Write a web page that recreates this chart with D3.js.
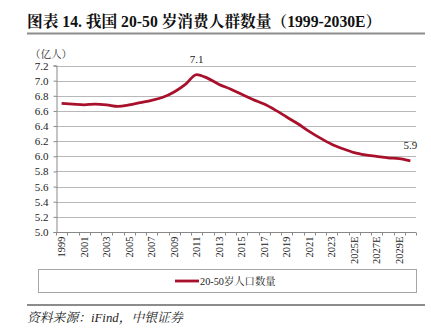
<!DOCTYPE html>
<html><head><meta charset="utf-8">
<script src="https://cdn.jsdelivr.net/npm/d3@7"></script>
<style>
html,body{margin:0;padding:0;background:#fff;}
svg{display:block;}
</style></head>
<body>
<svg id="c" width="431" height="335"></svg>
<script>
const categories = ["1999","2000","2001","2002","2003","2004","2005","2006","2007","2008","2009","2010","2011","2012","2013","2014","2015","2016","2017","2018","2019","2020","2021","2022","2023","2024","2025E","2026E","2027E","2028E","2029E","2030E"];
const population = [6.70,6.69,6.68,6.69,6.68,6.66,6.68,6.71,6.74,6.78,6.85,6.95,7.08,7.03,6.95,6.89,6.82,6.75,6.69,6.61,6.52,6.43,6.33,6.24,6.16,6.10,6.05,6.02,6.00,5.98,5.97,5.94];
const yTicks = [5.0,5.2,5.4,5.6,5.8,6.0,6.2,6.4,6.6,6.8,7.0,7.2];
const labelled = {"2011":"7.1","2030E":"5.9"};
const title = "图表 14. 我国 20-50 岁消费人群数量（1999-2030E）";
const unit = "（亿人）";
const legendName = "20-50岁人口数量";
const source = "资料来源：iFind，中银证券";

const svg = d3.select("#c");
const serif = "'Liberation Serif','Noto Serif CJK SC','Noto Sans CJK SC',serif";
const red = "#A8102B";

// title
svg.append("text").attr("x",27).attr("y",27).attr("font-family",serif).attr("font-weight","bold")
  .attr("font-size",15.7).attr("fill","#111").text(title);
svg.append("line").attr("x1",27).attr("x2",425).attr("y1",33.5).attr("y2",33.5).attr("stroke","#8c8c8c").attr("stroke-width",2.2);

const L=56, R=416, T=65.5, B=232;
const x = d3.scaleBand().domain(categories).range([L,R]).paddingInner(0).paddingOuter(0);
const y = d3.scaleLinear().domain([5.0,7.2]).range([B,T]);

// gridlines
svg.append("g").selectAll("line").data(yTicks.filter(d=>d>5.0)).join("line")
  .attr("x1",L).attr("x2",R).attr("y1",d=>Math.round(y(d))+0.5).attr("y2",d=>Math.round(y(d))+0.5)
  .attr("stroke","#a6a6a6").attr("stroke-width",0.8);

// y axis
const yAxis = svg.append("g").attr("transform",`translate(${L+0.5},0)`)
  .call(d3.axisLeft(y).tickValues(yTicks).tickFormat(d3.format(".1f")).tickSize(3).tickPadding(5));
yAxis.select(".domain").attr("stroke","#888");
yAxis.selectAll(".tick line").attr("stroke","#888");
yAxis.selectAll("text").attr("font-family",serif).attr("font-size",11).attr("fill","#222");

// x axis
const xg = svg.append("g").attr("transform",`translate(0,${B+0.5})`);
xg.append("line").attr("x1",L).attr("x2",R).attr("stroke","#888");
xg.selectAll("line.t").data(categories.concat(["__end"])).join("line").attr("class","t")
  .attr("x1",(d,i)=>Math.round(L+i*x.step())+0.5).attr("x2",(d,i)=>Math.round(L+i*x.step())+0.5)
  .attr("y1",0).attr("y2",3).attr("stroke","#888");
xg.selectAll("text").data(categories.filter((d,i)=>i%2===0)).join("text")
  .attr("transform",d=>`translate(${x(d)+x.bandwidth()/2+3.5},4) rotate(-90)`)
  .attr("text-anchor","end").attr("font-family",serif).attr("font-size",10.5).attr("fill","#222").text(d=>d);

// unit
svg.append("text").attr("x",30).attr("y",58).attr("font-family",serif).attr("font-size",10.5).attr("fill","#333").text(unit);

// line
const line = d3.line().x((d,i)=>x(categories[i])+x.bandwidth()/2).y(d=>y(d)).curve(d3.curveMonotoneX);
svg.append("path").attr("d",line(population)).attr("fill","none").attr("stroke",red).attr("stroke-width",2.8);

// data labels
categories.forEach((c,i)=>{
  if(labelled[c]) svg.append("text").attr("x",x(c)+x.bandwidth()/2).attr("y",y(population[i])-12)
    .attr("text-anchor","middle").attr("font-family",serif).attr("font-size",11).attr("fill","#222").text(labelled[c]);
});

// legend box
svg.append("rect").attr("x",38.5).attr("y",269.5).attr("width",378).attr("height",23).attr("fill","none").attr("stroke","#a6a6a6").attr("stroke-width",1);
svg.append("line").attr("x1",175).attr("x2",199).attr("y1",281).attr("y2",281).attr("stroke",red).attr("stroke-width",2.8);
svg.append("text").attr("x",200).attr("y",285).attr("font-family",serif).attr("font-size",10.3).attr("fill","#222").text(legendName);

// source
svg.append("line").attr("x1",27).attr("x2",425).attr("y1",305).attr("y2",305).attr("stroke","#8c8c8c").attr("stroke-width",2.2);
svg.append("text").attr("x",27).attr("y",322).attr("font-family",serif).attr("font-style","italic").attr("font-size",12.8).attr("fill","#222").text(source);
</script>
</body></html>
